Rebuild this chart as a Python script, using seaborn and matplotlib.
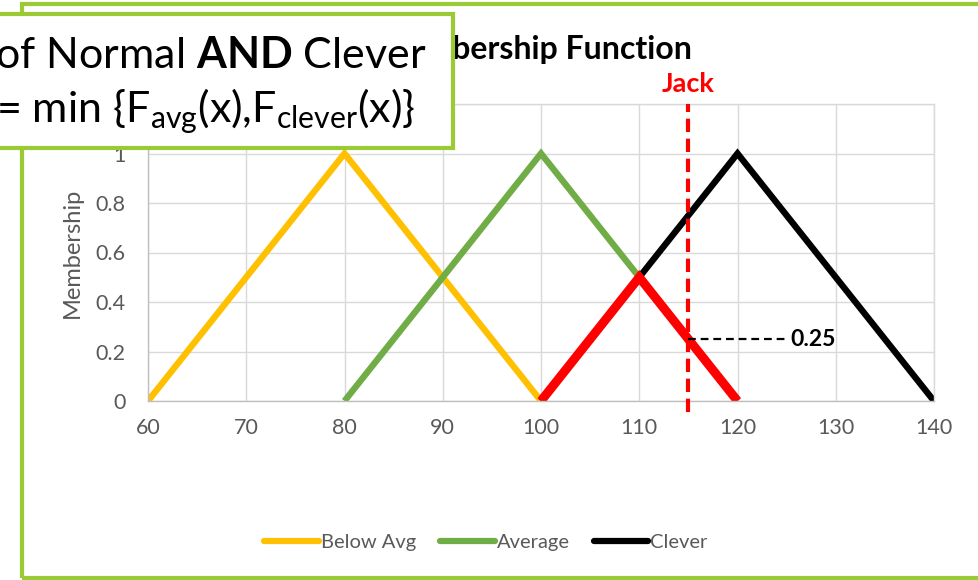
import matplotlib
matplotlib.use("Agg")
import matplotlib.pyplot as plt
from matplotlib.patches import Rectangle
from matplotlib.lines import Line2D
import seaborn as sns
import pandas as pd

# Fuzzy sets: triangular membership functions over the score axis
below_x = [60, 80, 100]
below_m = [0, 1, 0]
avg_x = [80, 100, 120]
avg_m = [0, 1, 0]
clever_x = [100, 120, 140]
clever_m = [0, 1, 0]
# Intersection (min of Average and Clever)
and_x = [100, 110, 120]
and_m = [0, 0.5, 0]

series_names = ["Below Avg", "Average", "Clever"]
series_colors = ["#FFC000", "#70AD47", "#000000"]

jack_x = 115
jack_m = 0.25
x_ticks = [60, 70, 80, 90, 100, 110, 120, 130, 140]
y_ticks = [0, 0.2, 0.4, 0.6, 0.8, 1, 1.2]
y_tick_labels = ["0", "0.2", "0.4", "0.6", "0.8", "1", "1.2"]

sns.set_theme(style="white")
plt.rcParams["font.family"] = ["Lato", "DejaVu Sans"]
plt.rcParams["mathtext.fontset"] = "custom"
plt.rcParams["mathtext.rm"] = "Lato"
plt.rcParams["mathtext.bf"] = "Lato:bold"
plt.rcParams["mathtext.it"] = "Lato:italic"

W, H = 979, 580
fig = plt.figure(figsize=(W / 100, H / 100), dpi=100)
fig.patch.set_facecolor("white")

def fx(px):
    return px / W

def fy(py):
    return 1 - py / H

ax = fig.add_axes([fx(148), fy(401), fx(934) - fx(148), fy(104) - fy(401)])

frames = []
for name, xs, ms in zip(series_names, [below_x, avg_x, clever_x], [below_m, avg_m, clever_m]):
    frames.append(pd.DataFrame({"score": xs, "membership": ms, "set": name}))
df = pd.concat(frames, ignore_index=True)

sns.lineplot(data=df, x="score", y="membership", hue="set", hue_order=series_names,
             palette=series_colors, estimator=None, sort=False, linewidth=4.6,
             legend=False, ax=ax, solid_capstyle="butt", solid_joinstyle="miter")
df_and = pd.DataFrame({"score": and_x, "membership": and_m})
sns.lineplot(data=df_and, x="score", y="membership", color="#FF0000", estimator=None,
             sort=False, linewidth=6.5, legend=False, ax=ax,
             solid_capstyle="butt", solid_joinstyle="miter")

# Jack's score and his membership in the intersection
ax.plot([jack_x, jack_x], [-0.045, 1.2], color="#FF0000", linewidth=3.0,
        dashes=(3.2, 1.6), clip_on=False, zorder=5)
ax.plot([jack_x, 125.1], [jack_m, jack_m], color="black", linewidth=1.6,
        dashes=(3.5, 2.2), zorder=5)
ax.annotate(f"{jack_m:.2f}", xy=(125.1, jack_m), xytext=(2, 0), textcoords="offset points",
            ha="left", va="center", fontsize=16.5, fontweight="bold", color="black")
ax.annotate("Jack", xy=(jack_x, 1.2), xytext=(0, 9), textcoords="offset points",
            ha="center", va="baseline", fontsize=19.5, fontweight="bold", color="#FF0000",
            annotation_clip=False)

ax.set_xlim(60, 140)
ax.set_ylim(0, 1.2)
ax.set_xticks(x_ticks)
ax.set_yticks(y_ticks)
ax.set_yticklabels(y_tick_labels)
ax.grid(True, color="#D9D9D9", linewidth=1.0)
ax.set_axisbelow(True)
for side, sp in ax.spines.items():
    sp.set_visible(True)
    sp.set_color("#D9D9D9")
    sp.set_linewidth(1.0)
ax.spines["bottom"].set_color("#BFBFBF")
ax.spines["left"].set_color("#BFBFBF")
ax.tick_params(axis="both", length=0, labelsize=15.5, colors="#595959")
ax.tick_params(axis="x", pad=12)
ax.tick_params(axis="y", pad=16)
ax.set_xlabel("")
ax.set_ylabel("Membership", fontsize=17, color="#595959", labelpad=9)

handles = [Line2D([0], [0], color=c, linewidth=4.5, solid_capstyle="round") for c in series_colors]
leg = fig.legend(handles, series_names, loc="center", bbox_to_anchor=(fx(486), fy(542)),
                 ncol=3, frameon=False, handlelength=2.7, handletextpad=0.1,
                 columnspacing=1.2, fontsize=14.5)
for t in leg.get_texts():
    t.set_color("#595959")

green = "#9BCB34"
fig.text(fx(692), fy(59), "Membership Function", ha="right", va="baseline",
         fontsize=23, fontweight="bold", color="black")

# Outer chart frame
fig.patches.append(Rectangle((fx(22), fy(578)), fx(1000) - fx(22), fy(4) - fy(578),
                             transform=fig.transFigure, fill=False, edgecolor=green,
                             linewidth=3.0, zorder=4))
# Callout box with the AND definition
fig.patches.append(Rectangle((fx(-20), fy(148)), fx(453) - fx(-20), fy(14) - fy(148),
                             transform=fig.transFigure, facecolor="white", edgecolor=green,
                             linewidth=3.0, zorder=5))
fig.text(fx(427), fy(68), r"of Normal $\mathbf{AND}$ Clever", ha="right", va="baseline",
         fontsize=31, color="black", zorder=6)
fig.text(fx(415), fy(122), r"= min {$\mathrm{F_{avg}}$(x),$\mathrm{F_{clever}}$(x)}",
         ha="right", va="baseline", fontsize=31, color="black", zorder=6)

fig.savefig("out.png", dpi=100)
